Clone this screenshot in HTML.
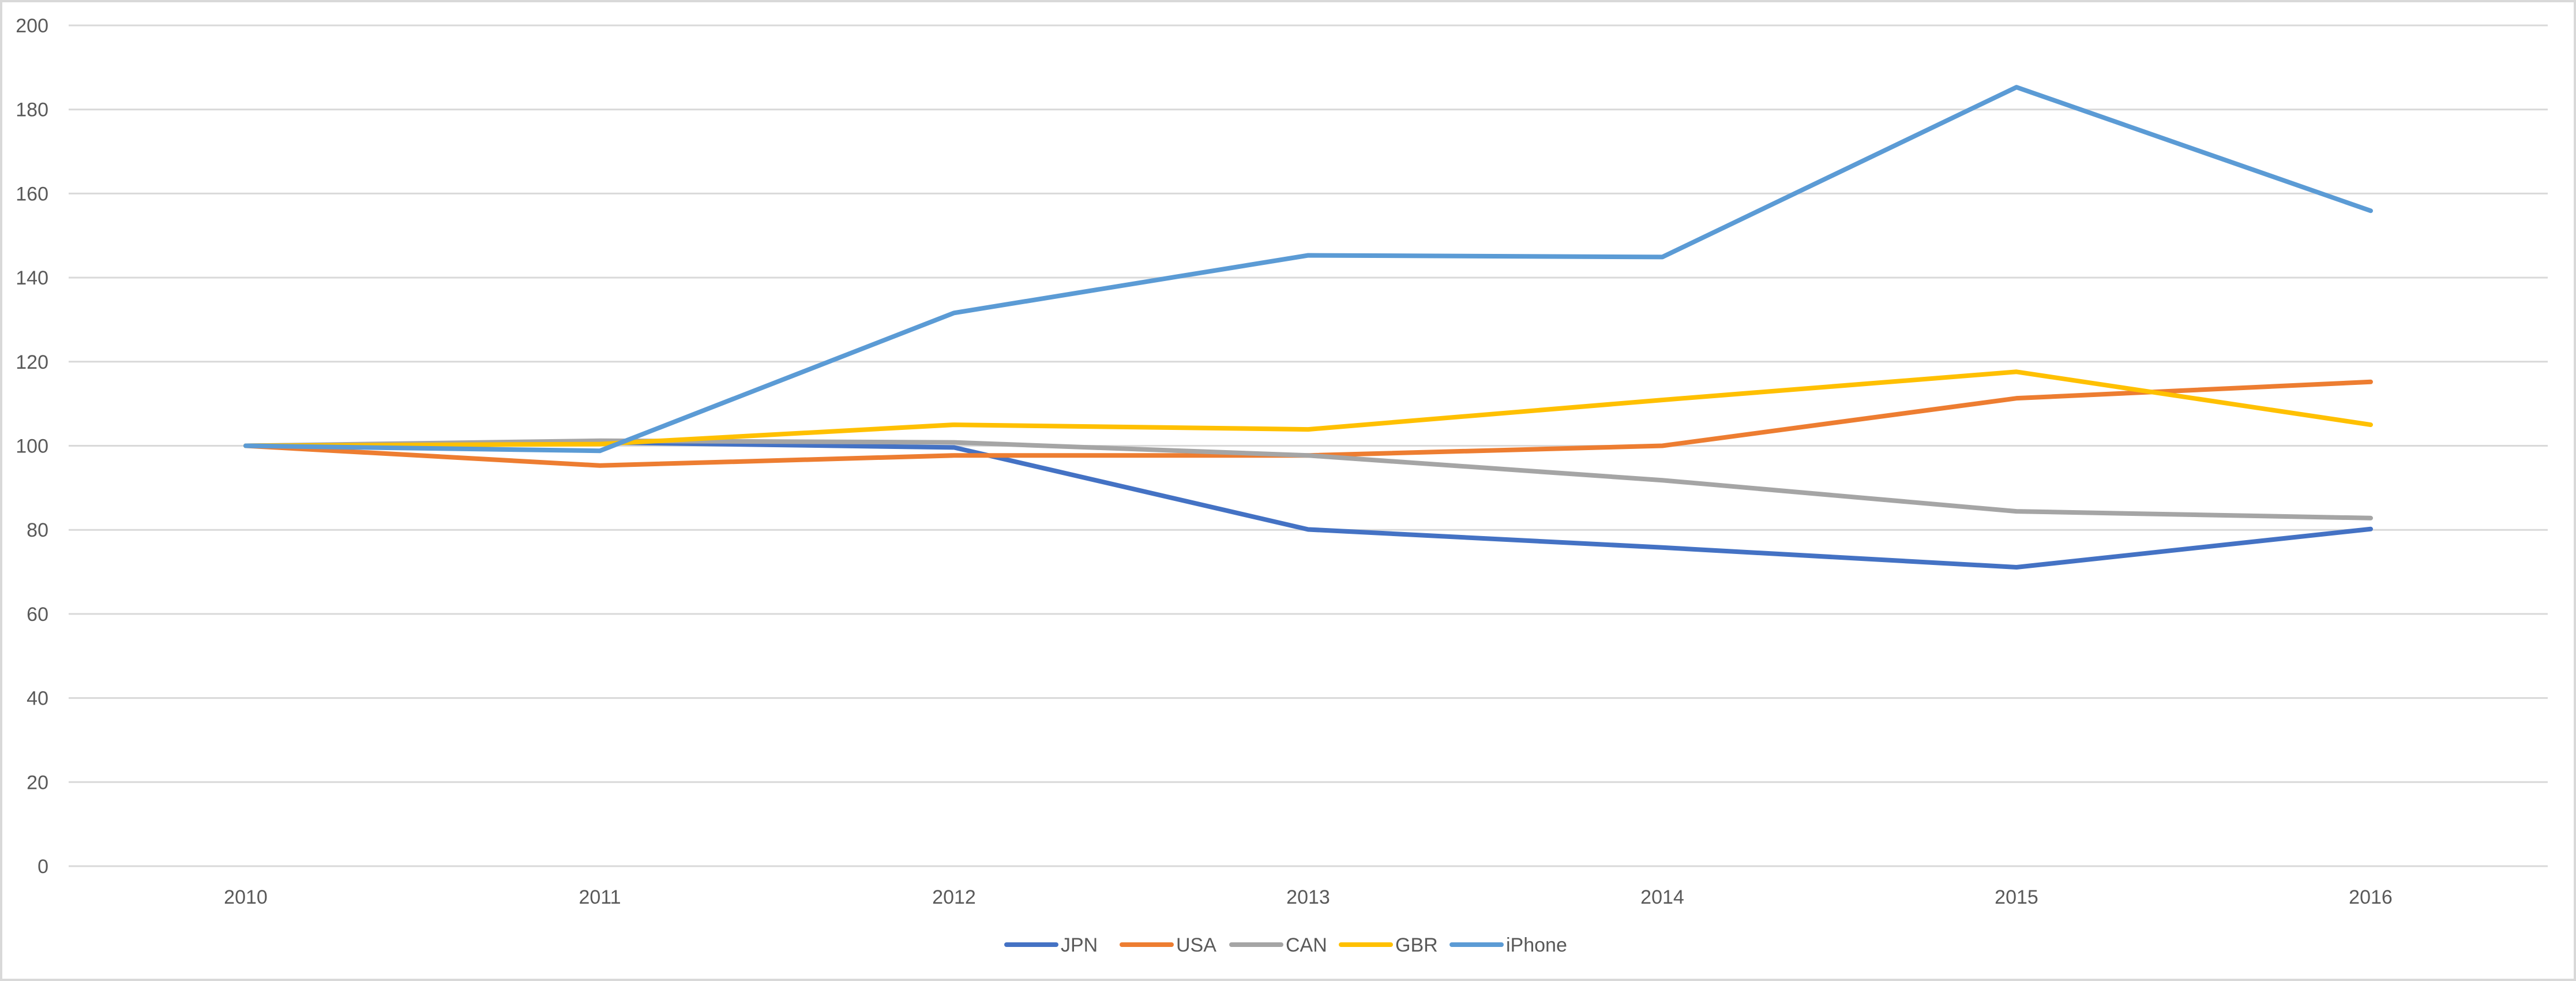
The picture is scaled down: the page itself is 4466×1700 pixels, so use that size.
<!DOCTYPE html>
<html><head><meta charset="utf-8"><style>
html,body{margin:0;padding:0;background:#fff}
svg{display:block}
text{font-family:"Liberation Sans",sans-serif;fill:#595959}
</style></head><body>
<svg id="chart" width="4466" height="1700" viewBox="0 0 4466 1700" xmlns="http://www.w3.org/2000/svg">
<rect x="2" y="2" width="4462" height="1696" fill="#fff" stroke="#d9d9d9" stroke-width="4"/>
<g id="grid"></g>
<g id="yaxis"></g>
<g id="xaxis"></g>
<g id="series"></g>
<g id="legend"></g>
</svg>
<script>
const categories = ["2010","2011","2012","2013","2014","2015","2016"];
const yTicks = [0,20,40,60,80,100,120,140,160,180,200];
const seriesNames = ["JPN","USA","CAN","GBR","iPhone"];
const jpn = [100,100.8,99.6,80.1,75.8,71.1,80.2];
const usa = [100,95.3,97.7,97.7,100,111.3,115.2];
const can = [100,101.2,100.8,97.7,91.8,84.4,82.8];
const gbr = [100,100.4,105,103.9,110.9,117.6,105];
const iphone = [100,98.8,131.6,145.3,144.9,185.3,155.9];
const colors = ["#4472c4","#ed7d31","#a5a5a5","#ffc000","#5b9bd5"];

const NS = "http://www.w3.org/2000/svg";
const plotLeft = 119, plotRight = 4417, plotTop = 44, plotBottom = 1501;
const band = (plotRight - plotLeft) / categories.length;
function xPos(i){ return plotLeft + band * (i + 0.5); }
function yPos(v){ return plotBottom - (v / 200) * (plotBottom - plotTop); }

const grid = document.getElementById('grid');
const yaxis = document.getElementById('yaxis');
yTicks.forEach(t => {
  const l = document.createElementNS(NS,'line');
  
  
  l.setAttribute('x1', plotLeft); l.setAttribute('x2', plotRight);
  l.setAttribute('y1', yPos(t)); l.setAttribute('y2', yPos(t));
  l.setAttribute('stroke', '#d9d9d9'); l.setAttribute('stroke-width', '3');
  grid.appendChild(l);
  const tx = document.createElementNS(NS,'text');
  
  
  tx.setAttribute('x', 84); tx.setAttribute('y', yPos(t) + 12);
  tx.setAttribute('text-anchor', 'end'); tx.setAttribute('font-size', '34');
  tx.textContent = t;
  yaxis.appendChild(tx);
});
const xaxis = document.getElementById('xaxis');
categories.forEach((c,i) => {
  const tx = document.createElementNS(NS,'text');
  
  
  tx.setAttribute('x', xPos(i)); tx.setAttribute('y', 1566);
  tx.setAttribute('text-anchor', 'middle'); tx.setAttribute('font-size', '34');
  tx.textContent = c;
  xaxis.appendChild(tx);
});
const allSeries = [jpn, usa, can, gbr, iphone];
const sg = document.getElementById('series');
allSeries.forEach((s,k) => {
  const p = document.createElementNS(NS,'polyline');
  
  
  p.setAttribute('points', s.map((v,i) => xPos(i) + ',' + yPos(v)).join(' '));
  p.setAttribute('fill', 'none'); p.setAttribute('stroke', colors[k]);
  p.setAttribute('stroke-width', '8'); p.setAttribute('stroke-linejoin', 'round');
  p.setAttribute('stroke-linecap', 'round');
  sg.appendChild(p);
});
const legendX = [1745,1945,2135,2325,2517];
const lg = document.getElementById('legend');
seriesNames.forEach((n,k) => {
  const g = document.createElementNS(NS,'g');
  
  
  const l = document.createElementNS(NS,'line');
  l.setAttribute('x1', legendX[k]); l.setAttribute('x2', legendX[k] + 86);
  l.setAttribute('y1', 1637); l.setAttribute('y2', 1637);
  l.setAttribute('stroke', colors[k]); l.setAttribute('stroke-width', '8');
  l.setAttribute('stroke-linecap', 'round');
  g.appendChild(l);
  const t = document.createElementNS(NS,'text');
  t.setAttribute('x', legendX[k] + 94); t.setAttribute('y', 1649);
  t.setAttribute('font-size', '34');
  t.textContent = n;
  g.appendChild(t);
  lg.appendChild(g);
});
</script>
</body></html>
